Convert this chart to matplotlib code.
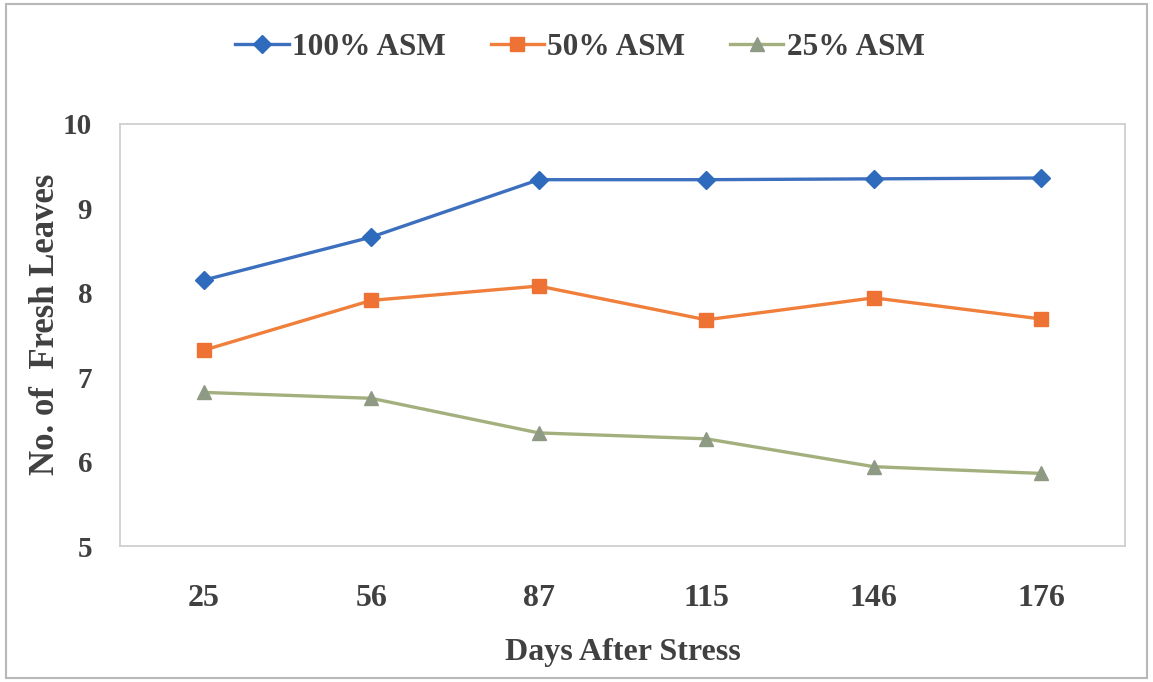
import matplotlib
matplotlib.use("Agg")
import matplotlib.pyplot as plt
from matplotlib.patches import Rectangle

days = ["25", "56", "87", "115", "146", "176"]
asm_100 = [8.15, 8.66, 9.34, 9.34, 9.35, 9.36]
asm_50 = [7.32, 7.91, 8.08, 7.68, 7.94, 7.69]
asm_25 = [6.82, 6.75, 6.34, 6.27, 5.94, 5.86]
series_names = ["100% ASM", "50% ASM", "25% ASM"]

plt.rcParams["font.family"] = ["Liberation Serif", "DejaVu Serif"]
plt.rcParams["font.weight"] = "bold"
text_color = "#404040"

fig = plt.figure(figsize=(11.53, 6.82), dpi=100)
fig.patch.set_facecolor("white")
fig.add_artist(Rectangle((0.005, 0.006), 0.99, 0.988, transform=fig.transFigure,
                         fill=False, edgecolor="#b8b8b8", linewidth=1.5))

ax = fig.add_axes([0.1041, 0.1994, 0.8716, 0.6188])
x = list(range(len(days)))

ax.plot(x, asm_100, color="#3d6fbf", linewidth=2.4, marker="D", markersize=9,
        markerfacecolor="#2f6bbd", markeredgecolor="#2f6bbd", label=series_names[0])
ax.plot(x, asm_50, color="#ef7f3a", linewidth=2.4, marker="s", markersize=10,
        markerfacecolor="#ee7233", markeredgecolor="#ee7233", label=series_names[1])
ax.plot(x, asm_25, color="#a3b07e", linewidth=2.4, marker="^", markersize=10,
        markerfacecolor="#8e9a84", markeredgecolor="#8e9a84", label=series_names[2])

ax.set_xlim(-0.5, len(days) - 0.5)
ax.set_ylim(5, 10)
ax.set_yticks([5, 6, 7, 8, 9, 10])
ax.set_xticks(x)
ax.set_xticklabels(days)
ax.tick_params(axis="both", length=0, labelcolor=text_color)
ax.tick_params(axis="y", pad=20, labelsize=21)
ax.tick_params(axis="x", pad=27, labelsize=23)
for lbl in ax.get_xticklabels() + ax.get_yticklabels():
    lbl.set_fontweight("bold")

for s in ax.spines.values():
    s.set_color("#cfcfcf")
    s.set_linewidth(1.3)

ax.set_xlabel("Days After Stress", fontsize=23, fontweight="bold", color=text_color, labelpad=18)
ax.set_ylabel("No. of  Fresh Leaves", fontsize=25, fontweight="bold", color=text_color)
ax.yaxis.set_label_coords(-0.058, 0.525)

leg = fig.legend(loc="center", bbox_to_anchor=(0.503, 0.931), ncol=3, frameon=False,
                 handlelength=1.7, handletextpad=0.1, columnspacing=1.45,
                 prop={"weight": "bold", "size": 22.5})
for t in leg.get_texts():
    t.set_color(text_color)

fig.savefig("out.png", dpi=100)
